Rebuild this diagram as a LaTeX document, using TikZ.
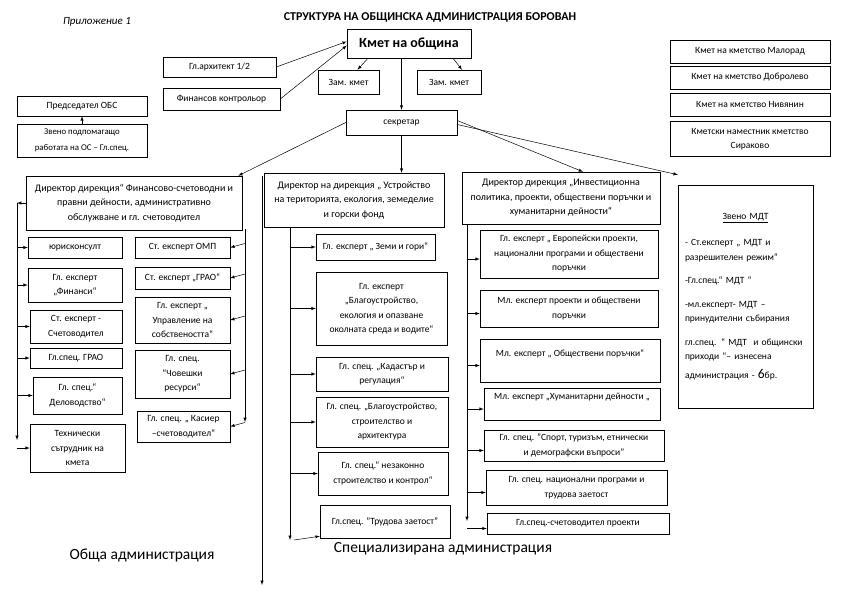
\documentclass[tikz,border=0pt]{standalone}
\usepackage{fontspec}
\setmainfont{Carlito}
\begin{document}
\begin{tikzpicture}[>=latex, x=1pt, y=-1pt, line width=0.5pt,
    orgbox/.style={draw, align=center, inner sep=2pt, font=\fontsize{9.5}{14.5}\selectfont},
    headbox/.style={orgbox, font=\fontsize{10}{14.5}\selectfont}]
\useasboundingbox (0,0) rectangle (841,595);

\node[font=\itshape\fontsize{11}{12}\selectfont] (app) at (97,22) {Приложение 1};
\node[font=\bfseries\fontsize{12}{14}\selectfont] (title) at (430,17) {СТРУКТУРА НА ОБЩИНСКА АДМИНИСТРАЦИЯ БОРОВАН};

% ръководство
\node[orgbox, font=\bfseries\fontsize{14}{16}\selectfont, minimum width=124, minimum height=29] (mayor) at (409,43.5) {Кмет на община};
\node[orgbox, minimum width=61, minimum height=24] (zamL) at (348.5,82) {Зам. кмет};
\node[orgbox, minimum width=64, minimum height=24] (zamR) at (449,82) {Зам. кмет};
\node[orgbox, minimum width=113, minimum height=20] (arch) at (219.5,67) {Гл.архитект 1/2};
\node[orgbox, minimum width=117, minimum height=22] (finc) at (221.5,99) {Финансов контрольор};
\node[orgbox, minimum width=130, minimum height=20] (obs) at (82,106) {Председател ОБС};
\node[orgbox, font=\fontsize{8.8}{15.5}\selectfont, minimum width=130, minimum height=33] (zveno) at (82,140.5) {Звено подпомагащо\\работата на ОС – Гл.спец.};
\node[orgbox, minimum width=111, minimum height=25] (secr) at (401.5,122.5) {секретар};

% кметства
\node[orgbox, minimum width=160, minimum height=23] (malorad) at (750,51.5) {Кмет на кметство Малорад};
\node[orgbox, minimum width=160, minimum height=23] (dobrolevo) at (750,77.5) {Кмет на кметство Добролево};
\node[orgbox, minimum width=160, minimum height=23] (nivyanin) at (750,104.5) {Кмет на кметство Нивянин};
\node[orgbox, minimum width=160, minimum height=35] (sirakovo) at (750,139) {Кметски наместник кметство\\Сираково};

% дирекции
\node[headbox, minimum width=216, minimum height=54] (d1) at (134,203) {Директор дирекция“ Финансово-счетоводни и\\правни дейности, административно\\обслужване и гл. счетоводител};
\node[headbox, minimum width=180, minimum height=54] (d2) at (354,200) {Директор на дирекция „ Устройство\\на територията, екология, земеделие\\и горски фонд};
\node[headbox, minimum width=198, minimum height=52] (d3) at (561,198) {Директор дирекция „Инвестиционна\\политика, проекти, обществени поръчки и\\хуманитарни дейности“};
\node[orgbox, minimum width=135, minimum height=223, text width=121, align=left] (mdt) at (745.5,296.5) {\makebox[121pt]{\underline{Звено МДТ}}\\[12pt]
- Ст.експерт „ МДТ и\\разрешителен режим“\\[9pt]
-Гл.спец.“ МДТ “\\[9pt]
-мл.експерт- МДТ –\\принудителни събирания\\[9pt]
гл.спец. “ МДТ\ \ и общински\\приходи “– изнесена\\[4pt]
администрация - {\fontsize{13.5}{14.5}\selectfont 6}бр.};

% обща администрация
\node[orgbox, minimum width=94, minimum height=21] (jur) at (75,247.5) {юрисконсулт};
\node[orgbox, minimum width=94, minimum height=34] (fins) at (75,285) {Гл. експерт\\„Финанси“};
\node[orgbox, minimum width=92, minimum height=33] (acct) at (76,326.5) {Ст. експерт -\\Счетоводител};
\node[orgbox, minimum width=92, minimum height=20] (graoL) at (76,358) {Гл.спец. ГРАО};
\node[orgbox, minimum width=89, minimum height=37] (delo) at (77.5,395.5) {Гл. спец.“\\Деловодство“};
\node[orgbox, minimum width=95, minimum height=48] (tech) at (77.5,448) {Технически\\сътрудник на\\кмета};

\node[orgbox, minimum width=95, minimum height=21] (omp) at (182.5,247.5) {Ст. експерт ОМП};
\node[orgbox, minimum width=95, minimum height=22] (graoR) at (182.5,278) {Ст. експерт „ГРАО“};
\node[orgbox, minimum width=95, minimum height=46] (sobs) at (182.5,320) {Гл. експерт „\\Управление на\\собствеността“};
\node[orgbox, minimum width=95, minimum height=48] (hr) at (182.5,374) {Гл. спец.\\“Човешки\\ресурси“};
\node[orgbox, minimum width=93, minimum height=31] (kas) at (183.5,426.5) {Гл. спец. „ Касиер\\–счетоводител“};

% специализирана администрация
\node[orgbox, minimum width=119, minimum height=26] (zemi) at (375.5,247) {Гл. експерт „ Земи и гори“};
\node[orgbox, minimum width=131, minimum height=73] (blag) at (381.5,308.5) {Гл. експерт\\„Благоустройство,\\екология и опазване\\околната среда и водите“};
\node[orgbox, minimum width=132, minimum height=34] (kad) at (382,374) {Гл. спец. „Кадастър и\\регулация“};
\node[orgbox, minimum width=132, minimum height=50] (stroi) at (382,422) {Гл. спец. „Благоустройство,\\строителство и\\архитектура};
\node[orgbox, minimum width=130, minimum height=43] (nez) at (383,473.5) {Гл. спец.“ незаконно\\строителство и контрол“};
\node[orgbox, minimum width=130, minimum height=33] (trud) at (385,521.5) {Гл.спец. "Трудова заетост"};

\node[orgbox, minimum width=178, minimum height=48] (eur) at (569,254) {Гл. експерт „ Европейски проекти,\\национални програми и обществени\\поръчки};
\node[orgbox, minimum width=178, minimum height=37] (mlpr) at (569,308.5) {Мл. експерт проекти и обществени\\поръчки};
\node[orgbox, minimum width=180, minimum height=43] (obsp) at (570,360.5) {Мл. експерт „ Обществени поръчки“\\{}};
\node[orgbox, minimum width=176, minimum height=32] (hum) at (572,404) {Мл. експерт „Хуманитарни дейности „\\{}};
\node[orgbox, minimum width=180, minimum height=31] (sport) at (574,445.5) {Гл. спец. "Спорт, туризъм, етнически\\и демографски въпроси"};
\node[orgbox, minimum width=181, minimum height=35] (natp) at (576.5,487.5) {Гл. спец. национални програми и\\трудова заетост};
\node[orgbox, minimum width=182, minimum height=21] (schet) at (578,523.5) {Гл.спец.-счетоводител проекти};

\node[font=\fontsize{15.5}{17}\selectfont] (obshta) at (142,555) {Обща администрация};
\node[font=\fontsize{15.5}{17}\selectfont] (special) at (443,549) {Специализирана администрация};

% връзки
\draw[->] (arch.east) -- ([yshift=2pt]mayor.west);
\draw[->] (finc.east) -- ([yshift=-2pt]mayor.west);
\draw[->] ([xshift=-41pt]mayor.south) -- ([xshift=9pt]zamL.north);
\draw[->] ([xshift=44pt]mayor.south) -- ([xshift=13pt]zamR.north);
\draw[->] (secr.north |- mayor.south) -- (secr.north);
\draw[->] (zveno.north) -- (obs.south);
\draw[->] (secr.west) -- ([xshift=-4pt]d1.north east);
\draw[->] (secr.south) -- (secr.south |- d2.north);
\draw[->] ([yshift=2pt]secr.east) -- ([xshift=22pt]d3.north);
\draw[->] ([yshift=-2pt]secr.east) -- ([yshift=10pt]mdt.north west);

\coordinate (divtop) at (262,176);
\coordinate (divbot) at (262,585);
\draw[->] (divtop) -- (divbot);

\coordinate (ltop) at (17,203);
\coordinate (lbot) at (17,440);
\draw[->] (d1.west) -- (ltop);
\draw[->] (ltop) -- (lbot);
\foreach \b in {jur,fins,acct,graoL,delo,tech}
  \draw[->] (ltop |- \b.west) -- (\b.west);

\coordinate (rtop) at (245,229);
\coordinate (rbot) at (245,422);
\draw[->] (rtop) -- (rbot);
\foreach \b in {omp,graoR,sobs,hr,kas}
  \draw[->] ([yshift=4pt]\b.east -| rtop) -- (\b.east);

\coordinate (mtop) at (290,228);
\coordinate (mbot) at (290,540);
\draw[->] (mtop) -- (mbot);
\foreach \b in {zemi,blag,kad,stroi,nez}
  \draw[->] (mtop |- \b.west) -- (\b.west);
\draw[->] ([xshift=4pt]mbot) -- ([yshift=2pt]trud.south west);

\coordinate (ntop) at (467,224);
\coordinate (nbot) at (467,521);
\draw[->] (ntop) -- (nbot);
\foreach \b in {eur,mlpr,obsp,hum,sport,natp,schet}
  \draw[->] ([yshift=-5pt]\b.west -| ntop) -- ([yshift=-5pt]\b.west);

\end{tikzpicture}
\end{document}
